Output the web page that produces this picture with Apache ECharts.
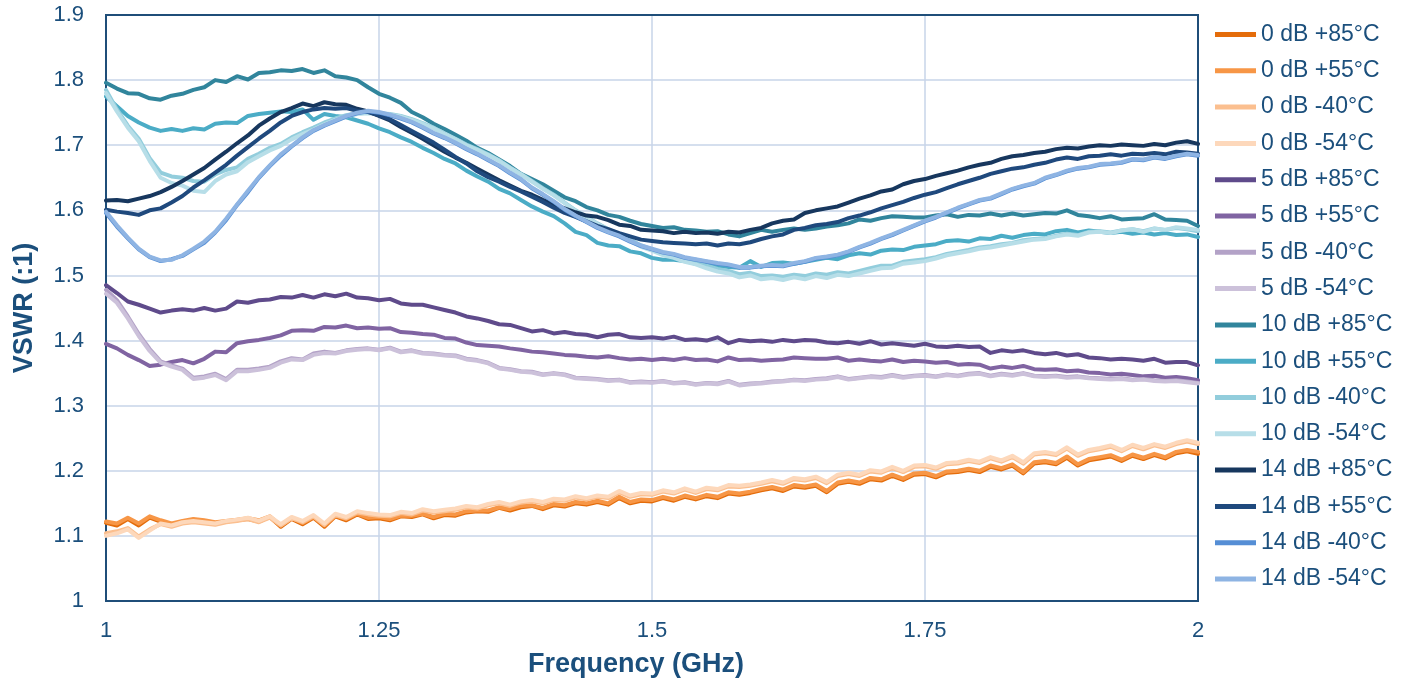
<!DOCTYPE html>
<html>
<head>
<meta charset="utf-8">
<script src="https://cdn.jsdelivr.net/npm/echarts@6/dist/echarts.min.js"></script>
<style>
html,body{margin:0;padding:0;background:#fff;}
#chart{width:1409px;height:683px;}
</style>
</head>
<body>
<div id="chart"></div>
<script>
const freq = [1.00,1.01,1.02,1.03,1.04,1.05,1.06,1.07,1.08,1.09,
1.10,1.11,1.12,1.13,1.14,1.15,1.16,1.17,1.18,1.19,
1.20,1.21,1.22,1.23,1.24,1.25,1.26,1.27,1.28,1.29,
1.30,1.31,1.32,1.33,1.34,1.35,1.36,1.37,1.38,1.39,
1.40,1.41,1.42,1.43,1.44,1.45,1.46,1.47,1.48,1.49,
1.50,1.51,1.52,1.53,1.54,1.55,1.56,1.57,1.58,1.59,
1.60,1.61,1.62,1.63,1.64,1.65,1.66,1.67,1.68,1.69,
1.70,1.71,1.72,1.73,1.74,1.75,1.76,1.77,1.78,1.79,
1.80,1.81,1.82,1.83,1.84,1.85,1.86,1.87,1.88,1.89,
1.90,1.91,1.92,1.93,1.94,1.95,1.96,1.97,1.98,1.99,
2.00];

const seriesNames = ['0 dB +85°C','0 dB +55°C','0 dB -40°C','0 dB -54°C',
'5 dB +85°C','5 dB +55°C','5 dB -40°C','5 dB -54°C',
'10 dB +85°C','10 dB +55°C','10 dB -40°C','10 dB -54°C',
'14 dB +85°C','14 dB +55°C','14 dB -40°C','14 dB -54°C'];

const xTicks = ['1','1.25','1.5','1.75','2'];
const yTicks = ['1','1.1','1.2','1.3','1.4','1.5','1.6','1.7','1.8','1.9'];

const db0_p85 = [1.120,1.116,1.126,1.116,1.128,1.122,1.117,1.121,1.125,1.123,
1.119,1.122,1.124,1.126,1.122,1.129,1.114,1.126,1.118,1.128,
1.114,1.130,1.124,1.133,1.126,1.127,1.124,1.130,1.129,1.133,
1.127,1.132,1.131,1.136,1.138,1.137,1.143,1.139,1.144,1.146,
1.141,1.147,1.145,1.150,1.148,1.152,1.148,1.158,1.150,1.154,
1.153,1.158,1.154,1.160,1.156,1.161,1.158,1.165,1.163,1.166,
1.170,1.173,1.169,1.176,1.174,1.177,1.167,1.180,1.183,1.180,
1.187,1.185,1.192,1.186,1.194,1.195,1.190,1.197,1.198,1.201,
1.198,1.206,1.202,1.208,1.196,1.211,1.213,1.210,1.220,1.208,
1.216,1.219,1.222,1.215,1.223,1.218,1.224,1.219,1.227,1.230,
1.226];
const db0_p55 = [1.122,1.119,1.128,1.119,1.130,1.124,1.119,1.123,1.126,1.124,
1.121,1.123,1.125,1.127,1.124,1.130,1.116,1.128,1.120,1.129,
1.116,1.131,1.126,1.134,1.128,1.129,1.126,1.131,1.131,1.134,
1.129,1.134,1.133,1.138,1.139,1.139,1.144,1.141,1.146,1.147,
1.143,1.149,1.147,1.152,1.150,1.154,1.150,1.160,1.152,1.156,
1.155,1.160,1.156,1.162,1.158,1.163,1.160,1.167,1.165,1.168,
1.172,1.175,1.171,1.178,1.176,1.179,1.169,1.182,1.185,1.182,
1.189,1.187,1.194,1.188,1.196,1.197,1.192,1.199,1.200,1.203,
1.200,1.208,1.204,1.210,1.198,1.213,1.215,1.212,1.222,1.210,
1.218,1.221,1.224,1.217,1.225,1.220,1.226,1.221,1.229,1.232,
1.229];
const db0_m40 = [1.104,1.107,1.112,1.099,1.110,1.118,1.114,1.119,1.121,1.119,
1.117,1.121,1.123,1.126,1.121,1.128,1.116,1.127,1.121,1.130,
1.117,1.132,1.127,1.136,1.133,1.131,1.130,1.135,1.133,1.139,
1.136,1.138,1.140,1.144,1.142,1.147,1.150,1.146,1.151,1.153,
1.150,1.155,1.154,1.159,1.156,1.160,1.158,1.167,1.160,1.164,
1.163,1.168,1.165,1.171,1.166,1.172,1.170,1.176,1.175,1.177,
1.180,1.184,1.180,1.187,1.185,1.189,1.181,1.192,1.195,1.192,
1.199,1.197,1.204,1.198,1.206,1.207,1.203,1.210,1.211,1.215,
1.212,1.219,1.214,1.221,1.211,1.225,1.227,1.224,1.234,1.223,
1.230,1.233,1.237,1.230,1.238,1.233,1.239,1.235,1.241,1.245,
1.241];
const db0_m54 = [1.100,1.104,1.110,1.097,1.108,1.119,1.116,1.121,1.123,1.121,
1.119,1.123,1.125,1.128,1.123,1.130,1.118,1.129,1.123,1.132,
1.119,1.134,1.129,1.138,1.135,1.133,1.132,1.137,1.135,1.141,
1.138,1.140,1.142,1.146,1.144,1.149,1.152,1.148,1.153,1.155,
1.152,1.157,1.156,1.161,1.158,1.162,1.160,1.169,1.162,1.166,
1.165,1.170,1.167,1.173,1.168,1.174,1.172,1.178,1.177,1.179,
1.182,1.186,1.182,1.189,1.187,1.191,1.183,1.194,1.197,1.194,
1.201,1.199,1.206,1.200,1.208,1.209,1.205,1.212,1.213,1.217,
1.214,1.221,1.216,1.223,1.213,1.227,1.229,1.226,1.236,1.225,
1.232,1.235,1.239,1.232,1.240,1.235,1.241,1.237,1.243,1.247,
1.243];

const db5_p85 = [1.485,1.473,1.460,1.455,1.449,1.443,1.446,1.448,1.446,1.450,
1.446,1.449,1.460,1.458,1.462,1.463,1.467,1.466,1.470,1.466,
1.471,1.468,1.472,1.466,1.465,1.462,1.464,1.457,1.455,1.455,
1.451,1.447,1.443,1.437,1.434,1.430,1.425,1.424,1.419,1.414,
1.416,1.411,1.413,1.410,1.409,1.405,1.409,1.410,1.405,1.404,
1.405,1.403,1.406,1.401,1.402,1.400,1.405,1.396,1.401,1.399,
1.400,1.398,1.401,1.399,1.401,1.400,1.397,1.396,1.398,1.395,
1.399,1.394,1.396,1.394,1.392,1.395,1.391,1.390,1.392,1.390,
1.391,1.381,1.385,1.383,1.385,1.381,1.379,1.381,1.377,1.379,
1.374,1.373,1.371,1.372,1.371,1.369,1.372,1.366,1.367,1.367,
1.362];
const db5_p55 = [1.395,1.388,1.378,1.370,1.361,1.363,1.367,1.370,1.365,1.372,
1.383,1.382,1.396,1.399,1.401,1.404,1.408,1.415,1.416,1.415,
1.421,1.420,1.423,1.419,1.420,1.418,1.419,1.413,1.412,1.410,
1.409,1.404,1.403,1.397,1.393,1.392,1.391,1.388,1.386,1.383,
1.382,1.380,1.378,1.377,1.375,1.374,1.376,1.373,1.371,1.372,
1.370,1.372,1.370,1.373,1.370,1.371,1.368,1.374,1.370,1.371,
1.369,1.370,1.371,1.374,1.373,1.372,1.372,1.374,1.369,1.371,
1.369,1.368,1.371,1.367,1.369,1.368,1.366,1.367,1.363,1.364,
1.363,1.357,1.360,1.358,1.361,1.356,1.355,1.356,1.353,1.354,
1.351,1.350,1.348,1.349,1.347,1.345,1.346,1.343,1.344,1.342,
1.339];
const db5_m40 = [1.478,1.462,1.437,1.410,1.387,1.368,1.362,1.357,1.343,1.345,
1.349,1.341,1.355,1.355,1.357,1.360,1.368,1.373,1.371,1.380,
1.383,1.381,1.385,1.387,1.388,1.386,1.389,1.383,1.385,1.381,
1.380,1.378,1.377,1.372,1.370,1.366,1.358,1.356,1.353,1.352,
1.348,1.350,1.348,1.343,1.342,1.341,1.339,1.340,1.336,1.337,
1.336,1.338,1.335,1.336,1.333,1.335,1.334,1.338,1.332,1.334,
1.335,1.337,1.338,1.340,1.339,1.341,1.342,1.345,1.341,1.343,
1.345,1.344,1.347,1.344,1.346,1.347,1.345,1.348,1.346,1.349,
1.350,1.346,1.349,1.347,1.350,1.346,1.345,1.346,1.344,1.345,
1.343,1.342,1.341,1.342,1.340,1.341,1.339,1.338,1.339,1.337,
1.335];
const db5_m54 = [1.472,1.458,1.434,1.407,1.384,1.366,1.360,1.355,1.341,1.343,
1.347,1.339,1.353,1.353,1.355,1.358,1.366,1.371,1.370,1.378,
1.381,1.380,1.384,1.386,1.387,1.385,1.388,1.382,1.384,1.380,
1.379,1.377,1.376,1.371,1.369,1.365,1.357,1.355,1.352,1.351,
1.347,1.349,1.347,1.342,1.341,1.340,1.338,1.339,1.335,1.336,
1.335,1.337,1.334,1.335,1.332,1.334,1.333,1.337,1.331,1.333,
1.334,1.336,1.337,1.339,1.338,1.340,1.341,1.344,1.340,1.342,
1.344,1.343,1.346,1.343,1.345,1.346,1.344,1.347,1.345,1.348,
1.349,1.345,1.348,1.346,1.349,1.345,1.344,1.345,1.343,1.344,
1.342,1.341,1.340,1.341,1.339,1.340,1.338,1.337,1.338,1.336,
1.334];

const db10_p85 = [1.796,1.787,1.780,1.779,1.772,1.770,1.776,1.779,1.785,1.789,
1.800,1.797,1.806,1.801,1.811,1.812,1.815,1.814,1.817,1.811,
1.815,1.806,1.804,1.800,1.789,1.779,1.773,1.765,1.751,1.743,
1.733,1.725,1.716,1.707,1.696,1.688,1.678,1.668,1.656,1.648,
1.640,1.630,1.620,1.614,1.605,1.600,1.593,1.590,1.584,1.579,
1.576,1.573,1.574,1.570,1.569,1.567,1.568,1.563,1.560,1.565,
1.570,1.567,1.570,1.572,1.570,1.572,1.575,1.577,1.580,1.586,
1.584,1.588,1.591,1.590,1.589,1.589,1.592,1.594,1.590,1.593,
1.592,1.595,1.592,1.595,1.592,1.594,1.596,1.595,1.600,1.593,
1.591,1.588,1.591,1.586,1.587,1.588,1.594,1.586,1.585,1.584,
1.576];
const db10_p55 = [1.775,1.760,1.745,1.735,1.727,1.722,1.725,1.722,1.726,1.724,
1.733,1.735,1.734,1.745,1.748,1.750,1.752,1.751,1.755,1.739,
1.748,1.745,1.743,1.738,1.733,1.726,1.720,1.712,1.705,1.696,
1.688,1.679,1.672,1.661,1.652,1.644,1.633,1.626,1.616,1.606,
1.598,1.591,1.580,1.567,1.562,1.550,1.546,1.545,1.537,1.534,
1.527,1.524,1.524,1.522,1.518,1.517,1.515,1.513,1.512,1.522,
1.513,1.519,1.520,1.518,1.521,1.524,1.527,1.525,1.531,1.534,
1.532,1.538,1.540,1.539,1.544,1.546,1.548,1.553,1.554,1.552,
1.557,1.556,1.561,1.558,1.562,1.564,1.563,1.568,1.570,1.566,
1.569,1.567,1.565,1.567,1.564,1.566,1.563,1.565,1.562,1.563,
1.559];
const db10_m40 = [1.785,1.755,1.730,1.710,1.680,1.658,1.652,1.650,1.645,1.644,
1.655,1.662,1.666,1.679,1.687,1.696,1.702,1.712,1.720,1.727,
1.735,1.741,1.746,1.749,1.750,1.749,1.748,1.745,1.740,1.734,
1.727,1.718,1.710,1.701,1.694,1.686,1.677,1.666,1.656,1.645,
1.634,1.624,1.612,1.600,1.590,1.580,1.571,1.563,1.555,1.546,
1.540,1.534,1.530,1.524,1.520,1.515,1.510,1.507,1.502,1.504,
1.499,1.500,1.498,1.501,1.499,1.503,1.501,1.505,1.503,1.507,
1.511,1.515,1.515,1.521,1.523,1.525,1.528,1.533,1.536,1.539,
1.543,1.545,1.548,1.550,1.554,1.556,1.557,1.561,1.564,1.562,
1.567,1.568,1.566,1.569,1.571,1.568,1.572,1.570,1.573,1.571,
1.568];
const db10_m54 = [1.780,1.752,1.727,1.706,1.676,1.650,1.642,1.638,1.630,1.628,
1.645,1.655,1.660,1.674,1.683,1.692,1.699,1.709,1.717,1.724,
1.732,1.739,1.744,1.748,1.749,1.748,1.747,1.744,1.739,1.733,
1.726,1.717,1.709,1.700,1.693,1.685,1.676,1.665,1.655,1.644,
1.633,1.623,1.611,1.599,1.589,1.579,1.570,1.561,1.553,1.544,
1.538,1.531,1.527,1.521,1.517,1.511,1.506,1.503,1.497,1.500,
1.494,1.496,1.493,1.497,1.494,1.499,1.496,1.501,1.499,1.503,
1.507,1.511,1.512,1.518,1.520,1.522,1.526,1.531,1.534,1.537,
1.541,1.543,1.546,1.549,1.552,1.555,1.556,1.560,1.563,1.561,
1.566,1.567,1.565,1.569,1.571,1.567,1.572,1.570,1.574,1.572,
1.570];

const db14_p85 = [1.615,1.616,1.614,1.618,1.622,1.628,1.636,1.645,1.655,1.665,
1.678,1.690,1.703,1.715,1.730,1.741,1.751,1.757,1.764,1.760,
1.766,1.763,1.762,1.756,1.752,1.745,1.738,1.728,1.719,1.710,
1.700,1.690,1.681,1.673,1.664,1.655,1.646,1.638,1.630,1.624,
1.616,1.609,1.603,1.597,1.592,1.590,1.585,1.578,1.576,1.570,
1.569,1.568,1.565,1.567,1.565,1.566,1.564,1.567,1.566,1.570,
1.573,1.580,1.584,1.586,1.596,1.600,1.603,1.606,1.612,1.618,
1.623,1.629,1.632,1.640,1.645,1.648,1.653,1.657,1.661,1.666,
1.670,1.673,1.679,1.683,1.685,1.688,1.690,1.694,1.696,1.695,
1.698,1.700,1.699,1.701,1.700,1.699,1.702,1.700,1.704,1.706,
1.702];
const db14_p55 = [1.601,1.598,1.596,1.593,1.600,1.603,1.612,1.622,1.635,1.646,
1.658,1.670,1.684,1.697,1.710,1.722,1.735,1.745,1.751,1.755,
1.757,1.756,1.757,1.753,1.751,1.746,1.740,1.731,1.722,1.713,
1.704,1.693,1.682,1.672,1.660,1.651,1.644,1.636,1.629,1.621,
1.613,1.604,1.596,1.590,1.583,1.576,1.571,1.565,1.560,1.555,
1.553,1.551,1.550,1.549,1.548,1.549,1.546,1.549,1.548,1.551,
1.556,1.560,1.563,1.570,1.573,1.577,1.579,1.582,1.588,1.592,
1.597,1.603,1.608,1.613,1.619,1.624,1.628,1.634,1.640,1.645,
1.650,1.656,1.660,1.664,1.666,1.670,1.673,1.678,1.681,1.679,
1.683,1.684,1.686,1.684,1.687,1.686,1.688,1.686,1.690,1.689,
1.687];
const db14_m40 = [1.596,1.575,1.557,1.540,1.528,1.522,1.525,1.530,1.540,1.550,
1.566,1.585,1.608,1.628,1.650,1.668,1.684,1.698,1.711,1.722,
1.730,1.737,1.744,1.749,1.752,1.750,1.746,1.741,1.735,1.727,
1.718,1.711,1.703,1.694,1.686,1.677,1.668,1.657,1.647,1.634,
1.624,1.613,1.601,1.591,1.582,1.573,1.566,1.560,1.552,1.545,
1.540,1.535,1.532,1.527,1.524,1.521,1.518,1.516,1.512,1.512,
1.514,1.515,1.514,1.518,1.521,1.526,1.528,1.531,1.536,1.543,
1.549,1.556,1.562,1.569,1.576,1.583,1.589,1.596,1.603,1.609,
1.615,1.618,1.625,1.632,1.637,1.641,1.649,1.654,1.660,1.664,
1.666,1.670,1.671,1.673,1.678,1.677,1.681,1.679,1.683,1.686,
1.684];
const db14_m54 = [1.598,1.577,1.558,1.541,1.529,1.523,1.524,1.531,1.541,1.552,
1.567,1.587,1.609,1.630,1.651,1.669,1.686,1.699,1.712,1.723,
1.731,1.738,1.745,1.750,1.753,1.751,1.747,1.742,1.736,1.728,
1.719,1.712,1.704,1.695,1.687,1.678,1.669,1.658,1.648,1.635,
1.625,1.614,1.602,1.592,1.583,1.574,1.567,1.561,1.553,1.546,
1.541,1.536,1.533,1.528,1.525,1.522,1.519,1.517,1.513,1.513,
1.515,1.516,1.515,1.519,1.522,1.527,1.529,1.532,1.537,1.544,
1.550,1.557,1.563,1.570,1.577,1.584,1.590,1.597,1.604,1.610,
1.616,1.619,1.626,1.633,1.638,1.642,1.650,1.655,1.661,1.665,
1.667,1.671,1.672,1.674,1.679,1.678,1.682,1.680,1.684,1.687,
1.685];

const allValues = [db0_p85, db0_p55, db0_m40, db0_m54,
  db5_p85, db5_p55, db5_m40, db5_m54,
  db10_p85, db10_p55, db10_m40, db10_m54,
  db14_p85, db14_p55, db14_m40, db14_m54];

const colors = ['#e46c0a','#f79646','#fbbf8f','#fdd8bb',
  '#5f4b8b','#8064a2','#b3a2c7','#ccc1da',
  '#31859c','#4bacc6','#92cddc','#b7dee8',
  '#17375e','#1f497d','#558ed5','#8eb4e3'];

const textColor = '#1b4f7c';
const fontFam = '"Liberation Sans", Arial, sans-serif';

const chart = echarts.init(document.getElementById('chart'));
const series = seriesNames.map((name, k) => ({
  name: name,
  type: 'line',
  data: freq.map((f, i) => [f, allValues[k][i]]),
  symbol: 'none',
  showSymbol: false,
  color: colors[k],
  lineStyle: { color: colors[k], width: 4, join: 'round', cap: 'round' },
  z: 2 + k,
  animation: false
}));

chart.setOption({
  animation: false,
  backgroundColor: '#ffffff',
  textStyle: { fontFamily: fontFam },
  grid: { left: 106, right: 211, top: 15, bottom: 76, show: true, z: 1, borderColor: '#1f4e79', borderWidth: 2, backgroundColor: 'transparent', containLabel: false },
  legend: {
    orient: 'vertical',
    left: 1210,
    top: 17,
    icon: 'rect',
    itemWidth: 41,
    itemHeight: 5,
    itemGap: 11.3,
    textStyle: { color: textColor, fontSize: 23, fontFamily: fontFam, lineHeight: 25 },
    data: seriesNames,
    selectedMode: false
  },
  xAxis: {
    type: 'value', min: 1, max: 2, interval: 0.25,
    name: 'Frequency (GHz)', nameLocation: 'middle', nameGap: 50,
    nameTextStyle: { color: textColor, fontSize: 27, fontWeight: 'bold', fontFamily: fontFam, padding: [0, 32, 0, 0] },
    axisLine: { show: true, lineStyle: { color: '#1f4e79', width: 2 } },
    axisTick: { show: false },
    splitLine: { show: true, lineStyle: { color: '#c7d5e9', width: 1.5 } },
    axisLabel: { color: textColor, fontSize: 22, margin: 19, fontFamily: fontFam,
      formatter: v => xTicks[Math.round((v - 1) / 0.25)] }
  },
  yAxis: {
    type: 'value', min: 1, max: 1.9, interval: 0.1,
    name: 'VSWR (:1)', nameLocation: 'middle', nameGap: 68,
    nameTextStyle: { color: textColor, fontSize: 27, fontWeight: 'bold', fontFamily: fontFam },
    axisLine: { show: true, lineStyle: { color: '#1f4e79', width: 2 } },
    axisTick: { show: false },
    splitLine: { show: true, lineStyle: { color: '#c7d5e9', width: 1.5 } },
    axisLabel: { color: textColor, fontSize: 22, margin: 22, fontFamily: fontFam,
      formatter: v => yTicks[Math.round((v - 1) / 0.1)] }
  },
  series: series
});
</script>
</body>
</html>
